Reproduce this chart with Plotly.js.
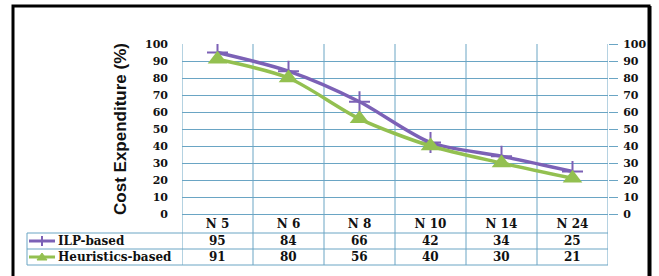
<!DOCTYPE html>
<html><head><meta charset="utf-8">
<script src="https://cdn.plot.ly/plotly-3.0.1.min.js"></script>
<style>html,body{margin:0;padding:0;background:#fff}#c{width:659px;height:276px}</style>
</head><body><div id="c"></div>
<script>
const categories = ['N 5','N 6','N 8','N 10','N 14','N 24'];
const ilpValues = [95, 84, 66, 42, 34, 25];
const heurValues = [91, 80, 56, 40, 30, 21];
const seriesNames = ['ILP-based','Heuristics-based'];
const yTicks = [0,10,20,30,40,50,60,70,80,90,100];

const W=659,H=276,L=182,R=608,T=44,B=214;
const fx=p=>(p-L)/(R-L), fy=p=>(B-p)/(B-T);
const purple='#7c61b6', green='#93c050', grid='#6aa5c4';
const serif='"DejaVu Serif", serif';

const traces=[
 {x:categories,y:ilpValues,name:seriesNames[0],type:'scatter',mode:'lines+markers',
  line:{color:purple,width:3.5,shape:'spline',smoothing:0.8},
  marker:{symbol:'cross-thin',size:15,color:purple,line:{color:purple,width:2}},showlegend:false},
 {x:categories,y:heurValues,name:seriesNames[1],type:'scatter',mode:'lines+markers',yaxis:'y2',
  line:{color:green,width:3.5,shape:'spline',smoothing:0.8},
  marker:{symbol:'triangle-up',size:17,color:green},showlegend:false}
];

const shapes=[], annotations=[];
shapes.push({type:'rect',xref:'paper',yref:'paper',x0:fx(13),x1:fx(649),y0:fy(6),y1:fy(300),line:{color:'#000',width:3}});
shapes.push({type:'line',xref:'paper',yref:'paper',x0:fx(650.5),x1:fx(650.5),y0:fy(6),y1:fy(300),line:{color:'#000',width:2}});
for(let i=0;i<=categories.length;i++){
  shapes.push({type:'line',xref:'x',yref:'paper',x0:i-0.5,x1:i-0.5,y0:fy(265),y1:1,line:{color:grid,width:1},layer:'below'});
}
[233,249,265].forEach(py=>shapes.push({type:'line',xref:'paper',yref:'paper',x0:fx(27),x1:1,y0:fy(py),y1:fy(py),line:{color:grid,width:1}}));
shapes.push({type:'line',xref:'paper',yref:'paper',x0:fx(27),x1:fx(27),y0:fy(233),y1:fy(265),line:{color:grid,width:1}});
const rowsY=[241,257];
shapes.push({type:'line',xref:'paper',yref:'paper',x0:fx(29),x1:fx(55),y0:fy(rowsY[0]),y1:fy(rowsY[0]),line:{color:purple,width:3}});
shapes.push({type:'line',xref:'paper',yref:'paper',x0:fx(42),x1:fx(42),y0:fy(rowsY[0]-5),y1:fy(rowsY[0]+5),line:{color:purple,width:2}});
shapes.push({type:'line',xref:'paper',yref:'paper',x0:fx(29),x1:fx(55),y0:fy(rowsY[1]),y1:fy(rowsY[1]),line:{color:green,width:3}});
const ty=rowsY[1];
shapes.push({type:'path',xref:'paper',yref:'paper',path:`M ${fx(37)} ${fy(ty+3)} L ${fx(47)} ${fy(ty+3)} L ${fx(42)} ${fy(ty-4)} Z`,fillcolor:green,line:{color:green,width:1}});

const series=[ilpValues,heurValues];
const tblFont={family:serif,size:12,color:'#111',weight:'bold'};
series.forEach((vals,r)=>{
  annotations.push({xref:'paper',yref:'paper',x:fx(56),y:fy(rowsY[r]),xanchor:'left',yanchor:'middle',showarrow:false,
    text:seriesNames[r],font:tblFont});
  vals.forEach((v,i)=>annotations.push({xref:'x',yref:'paper',x:categories[i],y:fy(rowsY[r]),xanchor:'center',yanchor:'middle',showarrow:false,
    text:String(v),font:tblFont}));
});

const tickFont={family:serif,size:11,color:'#111',weight:'bold'};
const layout={
 width:W,height:H,margin:{l:L,r:W-R,t:T,b:H-B},
 paper_bgcolor:'#fff',plot_bgcolor:'#fff',showlegend:false,
 xaxis:{type:'category',categoryorder:'array',categoryarray:categories,range:[-0.5,5.5],showgrid:false,zeroline:false,showline:false,
   ticks:'',tickfont:{family:serif,size:12,color:'#111',weight:'bold'},ticklabelstandoff:1,fixedrange:true},
 yaxis:{range:[0,100],tickvals:yTicks,showgrid:true,gridcolor:grid,gridwidth:1,zeroline:true,zerolinecolor:grid,zerolinewidth:1,
   showline:false,ticks:'',tickfont:tickFont,ticklabelstandoff:13,
   title:{text:'Cost Expenditure (%)',font:{family:'"Liberation Sans", Arial, sans-serif',size:17,color:'#111',weight:'bold'},standoff:14}},
 yaxis2:{range:[0,100],tickvals:yTicks,overlaying:'y',side:'right',showgrid:false,zeroline:false,showline:false,
   ticks:'outside',ticklen:9,tickcolor:grid,tickwidth:1,tickfont:tickFont,ticklabelstandoff:3},
 shapes:shapes,annotations:annotations
};
Plotly.newPlot('c',traces,layout,{staticPlot:true,displayModeBar:false});
</script></body></html>
